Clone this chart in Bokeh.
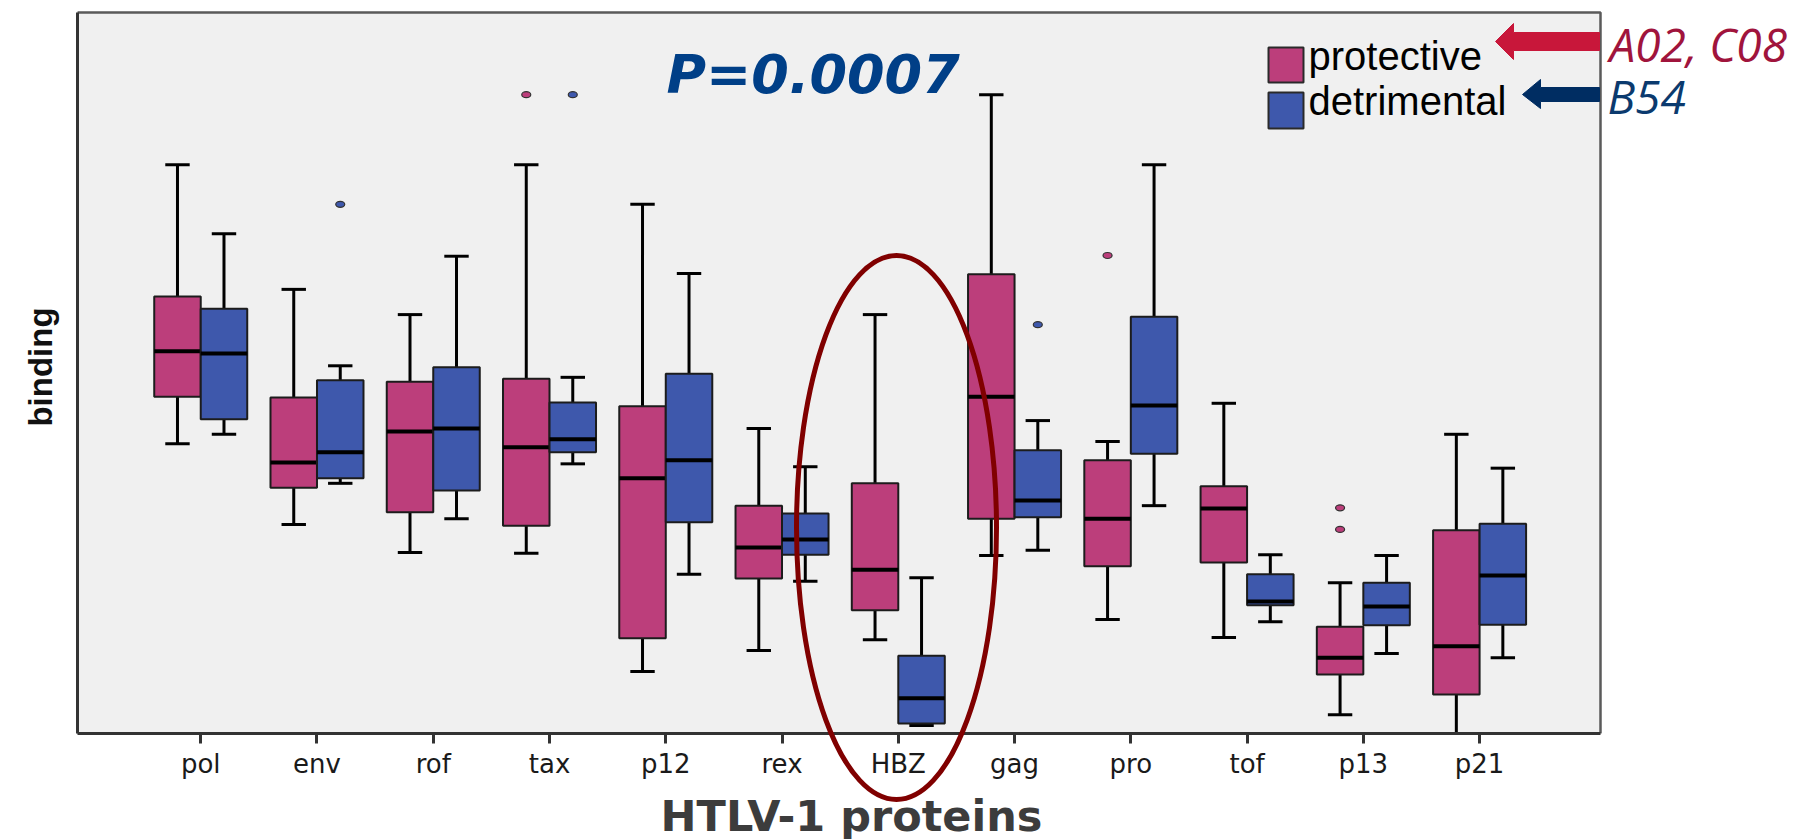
import numpy as np
from bokeh.plotting import figure
from bokeh.layouts import column
from bokeh.models import Range1d, FixedTicker, Label, PolyAnnotation, BoxAnnotation
from bokeh.embed import file_html
from bokeh.resources import INLINE

# ---------------- data (binding, arbitrary units) ----------------
proteins = ["pol", "env", "rof", "tax", "p12", "rex", "HBZ", "gag", "pro", "tof", "p13", "p21"]

prot_low = [40.2, 29.0, 25.1, 25.0, 8.6, 11.5, 13.0, 24.7, 15.8, 13.3, 2.6, 0.0]
prot_q1 = [46.7, 34.1, 30.7, 28.8, 13.2, 21.5, 17.1, 29.8, 23.2, 23.7, 8.2, 5.4]
prot_med = [53.0, 37.6, 41.9, 39.7, 35.4, 25.8, 22.7, 46.7, 29.8, 31.2, 10.5, 12.1]
prot_q3 = [60.6, 46.6, 48.8, 49.2, 45.4, 31.6, 34.7, 63.7, 37.9, 34.3, 14.8, 28.2]
prot_high = [78.9, 61.6, 58.1, 78.9, 73.4, 42.3, 58.1, 88.6, 40.5, 45.8, 20.9, 41.5]

det_low = [41.5, 34.7, 29.8, 37.4, 22.1, 21.1, 1.1, 25.4, 31.6, 15.5, 11.1, 10.5]
det_q1 = [43.6, 35.4, 33.7, 39.0, 29.3, 24.8, 1.4, 30.0, 38.8, 17.8, 15.0, 15.1]
det_med = [52.7, 39.0, 42.3, 40.8, 37.9, 26.9, 4.9, 32.3, 45.5, 18.3, 17.6, 21.9]
det_q3 = [58.9, 49.0, 50.8, 45.9, 49.9, 30.5, 10.8, 39.3, 57.8, 22.1, 20.9, 29.1]
det_high = [69.3, 51.0, 66.2, 49.4, 63.8, 37.0, 21.6, 43.4, 78.9, 24.8, 24.7, 36.8]

prot_out_cat = ["tax", "pro", "p13", "p13"]
prot_out_val = [88.6, 66.3, 31.3, 28.3]
det_out_cat = ["env", "tax", "gag"]
det_out_val = [73.4, 88.6, 56.7]

series_names = ["protective", "detrimental"]
annot_prot = "A02, C08"
annot_det = "B54"
p_text = "P=0.0007"
x_title = "HTLV-1 proteins"
y_title = "binding"

# ---------------- style ----------------
PINK = "#BC3E7B"
BLUE = "#3E58AC"
EDGE = "#1c1c1c"

W, H = 1808, 839
FL, FR, FT, FB = 77, 1600, 12, 733          # edges of the grey plotting box, px
XMIN, XMAX, YMIN, YMAX = -1.06, 12.04, 0.0, 100.0


def dx(px):
    return XMIN + (px - FL) * (XMAX - XMIN) / (FR - FL)


def dy(py):
    return YMIN + (FB - py) * (YMAX - YMIN) / (FB - FT)


# frame runs to the right and top edges so the side annotations can be drawn
p = figure(width=W, height=H, output_backend="svg", toolbar_location=None,
           x_range=Range1d(XMIN, dx(W)), y_range=Range1d(YMIN, dy(0)),
           min_border_left=FL, min_border_right=0,
           min_border_top=0, min_border_bottom=H - FB)
p.background_fill_color = "white"
p.border_fill_color = "white"
p.outline_line_color = None
p.xgrid.visible = False
p.ygrid.visible = False

p.add_layout(BoxAnnotation(left=XMIN, right=XMAX, bottom=YMIN, top=YMAX, level="underlay",
                           fill_color="#F0F0F0", fill_alpha=1, line_color="#5a5a5a",
                           line_alpha=1, line_width=2.5))

# axes
p.xaxis.bounds = (XMIN, XMAX)
p.xaxis.ticker = FixedTicker(ticks=list(range(len(proteins))))
p.xaxis.major_label_overrides = {i: n for i, n in enumerate(proteins)}
p.xaxis.axis_line_color = "#333333"
p.xaxis.axis_line_width = 3
p.xaxis.major_tick_line_color = "#333333"
p.xaxis.major_tick_line_width = 3
p.xaxis.major_tick_out = 10
p.xaxis.major_tick_in = 0
p.xaxis.minor_tick_line_color = None
p.xaxis.major_label_standoff = 5
p.xaxis.major_label_text_font = "DejaVu Sans"
p.xaxis.major_label_text_font_size = "26px"
p.xaxis.major_label_text_color = "#1a1a1a"

p.yaxis.bounds = (YMIN, YMAX)
p.yaxis.ticker = FixedTicker(ticks=[])
p.yaxis.axis_line_color = "#333333"
p.yaxis.axis_line_width = 3
p.yaxis.major_tick_line_color = None
p.yaxis.minor_tick_line_color = None
p.yaxis.axis_label = y_title
p.yaxis.axis_label_text_font = "Liberation Sans"
p.yaxis.axis_label_text_font_style = "bold"
p.yaxis.axis_label_text_font_size = "33px"
p.yaxis.axis_label_text_color = "#111111"
p.yaxis.axis_label_standoff = 19

xs = np.arange(len(proteins), dtype=float)
OFF = 0.2
BW = 0.4
CAP = 0.105


def draw_series(xpos, low, q1, med, q3, high, color):
    p.segment(x0=xpos, x1=xpos, y0=q3, y1=high, line_color="black", line_width=3)
    p.segment(x0=xpos, x1=xpos, y0=low, y1=q1, line_color="black", line_width=3)
    p.segment(x0=xpos - CAP, x1=xpos + CAP, y0=high, y1=high, line_color="black", line_width=3)
    p.segment(x0=xpos - CAP, x1=xpos + CAP, y0=low, y1=low, line_color="black", line_width=3)
    p.vbar(x=xpos, width=BW, top=q3, bottom=q1, fill_color=color, line_color=EDGE, line_width=2)
    p.segment(x0=xpos - BW / 2, x1=xpos + BW / 2, y0=med, y1=med, line_color="black", line_width=4)


draw_series(xs - OFF, prot_low, prot_q1, prot_med, prot_q3, prot_high, PINK)
draw_series(xs + OFF, det_low, det_q1, det_med, det_q3, det_high, BLUE)

idx = {n: i for i, n in enumerate(proteins)}
p.ellipse(x=[idx[c] - OFF for c in prot_out_cat], y=prot_out_val, width=9, height=6,
          width_units="screen", height_units="screen", fill_color=PINK, line_color="#333333", line_width=1.2)
p.ellipse(x=[idx[c] + OFF for c in det_out_cat], y=det_out_val, width=9, height=6,
          width_units="screen", height_units="screen", fill_color=BLUE, line_color="#333333", line_width=1.2)

# legend (manual)
p.quad(left=[dx(1268)], right=[dx(1303)], top=[dy(47)], bottom=[dy(82)],
       fill_color=PINK, line_color="#2a2a2a", line_width=2)
p.quad(left=[dx(1268)], right=[dx(1303)], top=[dy(92)], bottom=[dy(128)],
       fill_color=BLUE, line_color="#2a2a2a", line_width=2)
p.add_layout(Label(x=dx(1308), y=dy(55), text=series_names[0], text_font="Liberation Sans",
                   text_font_size="40px", text_color="black", text_baseline="alphabetic"))
p.add_layout(Label(x=dx(1308), y=dy(100), text=series_names[1], text_font="Liberation Sans",
                   text_font_size="40px", text_color="black", text_baseline="alphabetic"))

# arrows
red_px = [(1495, 41), (1513, 23), (1513, 32), (1599, 32), (1599, 50), (1513, 50), (1513, 59)]
blue_px = [(1522, 94), (1540, 79), (1540, 87), (1599, 87), (1599, 101), (1540, 101), (1540, 108)]
p.add_layout(PolyAnnotation(xs=[dx(a) for a, b in red_px], ys=[dy(b) for a, b in red_px],
                            fill_color="#C8173A", fill_alpha=1, line_color="#C8173A",
                            line_alpha=1, line_width=1))
p.add_layout(PolyAnnotation(xs=[dx(a) for a, b in blue_px], ys=[dy(b) for a, b in blue_px],
                            fill_color="#002D62", fill_alpha=1, line_color="#002D62",
                            line_alpha=1, line_width=1))
p.add_layout(Label(x=dx(1609), y=dy(43), text=annot_prot, text_font="Open Sans",
                   text_font_style="italic", text_font_size="46px", text_color="#A0143C",
                   text_baseline="alphabetic"))
p.add_layout(Label(x=dx(1607), y=dy(95), text=annot_det, text_font="Open Sans",
                   text_font_style="italic", text_font_size="46px", text_color="#0B3A6E",
                   text_baseline="alphabetic"))

# P value
p.add_layout(Label(x=dx(666), y=dy(74), text=p_text, text_font="DejaVu Sans",
                   text_font_style="bold italic", text_font_size="54px", text_color="#003F87",
                   text_baseline="alphabetic"))

# ---------------- transparent overlay (pixel coordinates) for marks below the axis ----------------
q = figure(width=W, height=H, output_backend="svg", toolbar_location=None,
           x_range=Range1d(FL, W), y_range=Range1d(H, 0),
           x_axis_location=None, y_axis_location=None,
           min_border_left=FL, min_border_right=0, min_border_top=0, min_border_bottom=0)
q.background_fill_color = None
q.border_fill_color = None
q.outline_line_color = None
q.grid.visible = False

q.ellipse(x=[896], y=[527], width=[200], height=[544], fill_color=None,
          line_color="#800000", line_width=5)
q.add_layout(Label(x=851, y=815, text=x_title, text_font="DejaVu Sans",
                   text_font_style="bold", text_font_size="43px", text_color="#3C3C3C",
                   text_align="center", text_baseline="alphabetic"))
q.margin = (-H, 0, 0, 0)

layout = column(p, q, spacing=0)
open("out.html", "w").write(file_html(layout, INLINE))
